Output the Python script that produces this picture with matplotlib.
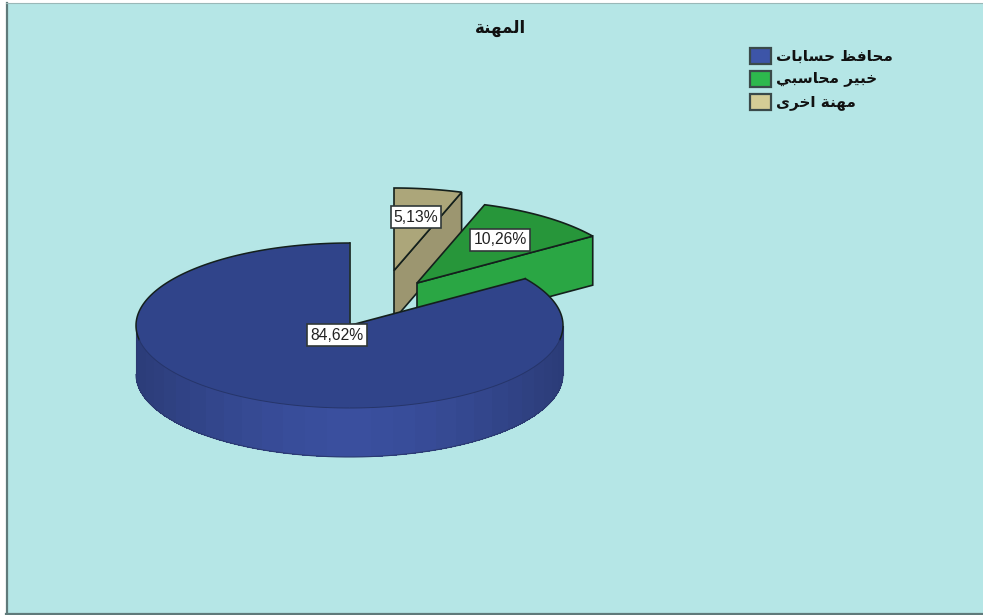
import numpy as np
import matplotlib
matplotlib.use('Agg')
import matplotlib.pyplot as plt
from matplotlib.colors import to_rgb
from matplotlib.patches import Polygon, Rectangle

title = 'المهنة'
categories = ['محافظ حسابات', 'خبير محاسبي', 'مهنة اخرى']
values = [84.62, 10.26, 5.13]
value_labels = ['84,62%', '10,26%', '5,13%']

# letter forms: isolated, final, initial, medial
forms = {
    'ا': ('\ufe8d', '\ufe8e', None, None),
    'ب': ('\ufe8f', '\ufe90', '\ufe91', '\ufe92'),
    'ة': ('\ufe93', '\ufe94', None, None),
    'ت': ('\ufe95', '\ufe96', '\ufe97', '\ufe98'),
    'ح': ('\ufea1', '\ufea2', '\ufea3', '\ufea4'),
    'خ': ('\ufea5', '\ufea6', '\ufea7', '\ufea8'),
    'ر': ('\ufead', '\ufeae', None, None),
    'س': ('\ufeb1', '\ufeb2', '\ufeb3', '\ufeb4'),
    'ظ': ('\ufec5', '\ufec6', '\ufec7', '\ufec8'),
    'ف': ('\ufed1', '\ufed2', '\ufed3', '\ufed4'),
    'ل': ('\ufedd', '\ufede', '\ufedf', '\ufee0'),
    'م': ('\ufee1', '\ufee2', '\ufee3', '\ufee4'),
    'ن': ('\ufee5', '\ufee6', '\ufee7', '\ufee8'),
    'ه': ('\ufee9', '\ufeea', '\ufeeb', '\ufeec'),
    'ى': ('\ufeef', '\ufef0', None, None),
    'ي': ('\ufef1', '\ufef2', '\ufef3', '\ufef4'),
}


# matplotlib does not join arabic letters, so pick the forms and flip the order
def shape(text):
    out = []
    for i, ch in enumerate(text):
        if ch not in forms:
            out.append(ch)
            continue
        prev = text[i - 1] if i > 0 else ' '
        nxt = text[i + 1] if i < len(text) - 1 else ' '
        joined_before = prev in forms and forms[prev][2] is not None
        joined_after = nxt in forms and forms[ch][2] is not None
        if joined_before and joined_after:
            out.append(forms[ch][3])
        elif joined_before:
            out.append(forms[ch][1])
        elif joined_after:
            out.append(forms[ch][2])
        else:
            out.append(forms[ch][0])
    return ''.join(out)[::-1]


bg = '#b5e6e6'
top_colors = ['#30448a', '#27963a', '#aca67a']
side_colors = ['#3a4f9e', '#2aa644', '#9c9670']
legend_colors = ['#3d55a8', '#2db84d', '#d4cd96']
line = '#14201c'

# pie geometry in pixels
cx, cy = 349.5, 325.5
rx, ry = 213.5, 82.5
depth = 49
offsets = [(0, 0), (67.5, -42.5), (44.5, -55)]

fig = plt.figure(figsize=(983 / 100, 615 / 100), dpi=100, facecolor='white')
ax = fig.add_axes([0, 0, 1, 1])
ax.set_xlim(0, 983)
ax.set_ylim(615, 0)
ax.axis('off')

# only the left and bottom of the frame are heavy
ax.add_patch(Rectangle((6, 3), 977, 611, fc=bg, ec='none'))
ax.plot([7, 7], [3, 614], color='#5f7a7a', lw=1.6)
ax.plot([6, 983], [614, 614], color='#5f7a7a', lw=1.6)
ax.plot([6, 983], [3, 3], color='#9ab8b8', lw=0.8)


def pt(deg, ox=0, oy=0, dz=0):
    t = np.radians(deg)
    return ox + cx + rx * np.cos(t), oy + cy - ry * np.sin(t) + dz


def arc(a, b, ox=0, oy=0, dz=0):
    t = np.linspace(a, b, 80)
    return np.array([pt(d, ox, oy, dz) for d in t])


# angles come from the values, start at 12 o'clock and go counter clockwise
sweep = np.array(values) / np.sum(values) * 360
starts = 90 + np.concatenate([[0], np.cumsum(sweep)[:-1]])
ends = starts + sweep

# tan slice, then green, blue goes last since it sits in front
s, e = starts[2] % 360, ends[2] % 360
ox, oy = offsets[2]
apex = (cx + ox, cy + oy)
p1 = pt(s, ox, oy)
cut = [apex, p1, (p1[0], p1[1] + depth), (apex[0], apex[1] + depth)]
ax.add_patch(Polygon(cut, fc=side_colors[2], ec=line, lw=1.2, zorder=2))
top = np.vstack([[apex], arc(s, e, ox, oy)])
ax.add_patch(Polygon(top, fc=top_colors[2], ec=line, lw=1.2, zorder=2.1))

s, e = starts[1] % 360, ends[1] % 360
ox, oy = offsets[1]
apex = (cx + ox, cy + oy)
p0 = pt(s, ox, oy)
cut = [apex, p0, (p0[0], p0[1] + depth), (apex[0], apex[1] + depth)]
ax.add_patch(Polygon(cut, fc=side_colors[1], ec=line, lw=1.2, zorder=3))
top = np.vstack([[apex], arc(s, e, ox, oy)])
ax.add_patch(Polygon(top, fc=top_colors[1], ec=line, lw=1.2, zorder=3.1))

# blue wall, strips so that it gets lighter towards the front
steps = np.linspace(180, 360, 31)
light = np.array(to_rgb('#3a4f9e'))
dark = np.array(to_rgb('#2b3c78'))
for a, b in zip(steps[:-1], steps[1:]):
    f = abs(np.cos(np.radians((a + b) / 2))) ** 1.6
    c = light * (1 - f) + dark * f
    upper = arc(a, b)
    lower = arc(b, a, dz=depth)
    ax.add_patch(Polygon(np.vstack([upper, lower]), fc=c, ec='none', antialiased=False, zorder=4))
ax.plot(*arc(180, 360, dz=depth).T, color='#2b3a70', lw=0.8, zorder=4.1)
ax.plot([cx - rx, cx - rx], [cy, cy + depth], color='#2b3a70', lw=0.8, zorder=4.1)
ax.plot([cx + rx, cx + rx], [cy, cy + depth], color='#2b3a70', lw=0.8, zorder=4.1)

top = np.vstack([[(cx, cy)], arc(starts[0], ends[0])])
ax.add_patch(Polygon(top, fc=top_colors[0], ec='none', zorder=5))
ax.plot(*arc(starts[0], 190).T, color=line, lw=1.1, zorder=5.1)
ax.plot(*arc(350, ends[0]).T, color=line, lw=1.1, zorder=5.1)
ax.plot(*arc(190, 350).T, color='#26356a', lw=0.7, zorder=5.1)
ax.plot([cx, cx], [cy, cy - ry], color=line, lw=1.2, zorder=5.1)
end_pt = pt(ends[0] % 360)
ax.plot([cx, end_pt[0]], [cy, end_pt[1]], color=line, lw=1.2, zorder=5.1)

# value labels
label_pos = [(337, 335), (500, 240), (416, 217)]
for txt, (lx, ly) in zip(value_labels, label_pos):
    ax.text(lx, ly, txt, ha='center', va='center', fontsize=11.3, color='#222222',
            family='Liberation Sans', zorder=7,
            bbox=dict(boxstyle='square,pad=0.2', fc='white', ec='#303838', lw=1.2))

ax.text(500, 28, shape(title), ha='center', va='center', fontsize=12,
        fontweight='bold', family='DejaVu Sans', color='#111111')

# legend
leg_y = [56, 79, 102]
for name, c, y in zip(categories, legend_colors, leg_y):
    ax.add_patch(Rectangle((749.5, y - 8), 21, 16, fc=c, ec='#3a4a4a', lw=1.6))
    ax.text(776, y, shape(name), ha='left', va='center', fontsize=11,
            fontweight='bold', family='DejaVu Sans', color='#111111')

fig.savefig('out.png', dpi=100, facecolor='white')
